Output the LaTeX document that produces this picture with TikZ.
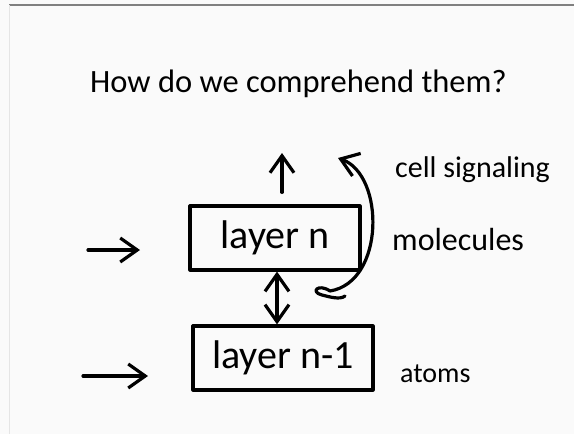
\documentclass[tikz,border=0pt]{standalone}
\usepackage{fontspec}
\setmainfont{Carlito}
\usetikzlibrary{arrows.meta}
\begin{document}
\begin{tikzpicture}[x=1pt,y=-1pt,
  ink/.style={line width=3.2pt, line cap=round, line join=round, black},
  barb/.tip={Straight Barb[length=17pt,width=24pt,line width=3.2pt]},
  tip/.style={-barb},
  boxnode/.style={draw, ink, minimum width=#1, minimum height=64pt, inner sep=0pt, font=\fontsize{40}{40}\selectfont},
  lbl/.style={anchor=west, inner sep=0pt}]
\useasboundingbox (0,0) rectangle (574,434);
\fill[white!98!black] (0,0) rectangle (574,434);
\draw[gray, line width=1.2pt] (9,5) -- (574,5);
\draw[white!90!black, line width=0.6pt] (9,5) -- (9,434);
\node[font=\fontsize{32.5}{32.5}\selectfont, inner sep=0pt, anchor=west] (title) at (90,84) {How do we comprehend them?};
\node[boxnode=170pt] (bn) at (275,238) {layer n};
\node[boxnode=180pt] (bm) at (283,358) {layer n-1};
\node[lbl, font=\fontsize{30}{30}\selectfont] (sig) at (395,170) {cell signaling};
\node[lbl, font=\fontsize{32}{32}\selectfont] (mol) at (392,240) {molecules};
\node[lbl, font=\fontsize{28}{28}\selectfont] (at) at (400,374) {atoms};
% double arrow between layers
\draw[ink, barb-barb] (bn.south -| 277,0) -- (bm.north -| 277,0);
% up arrow above layer n
\coordinate (upend) at (282,153);
\draw[ink, tip] (bn.north -| 282,0) ++(0,-12) coordinate (upstart) -- (upend);
% curved arrow
\coordinate (cs) at (330,291);
\coordinate (ce) at (338,158);
\draw[ink, tip] (cs) .. controls (385,282) and (385,175) .. (ce);
\draw[ink] (cs) .. controls (318,283) and (310,292) .. (322,295) .. controls (330,297) and (340,300) .. (345,296);
% left arrows
\coordinate (l1s) at (88,250); \coordinate (l1e) at (140,250);
\coordinate (l2s) at (83,376); \coordinate (l2e) at (148,376);
\draw[ink, tip] (l1s) -- (l1e);
\draw[ink, tip] (l2s) -- (l2e);
\end{tikzpicture}
\end{document}
